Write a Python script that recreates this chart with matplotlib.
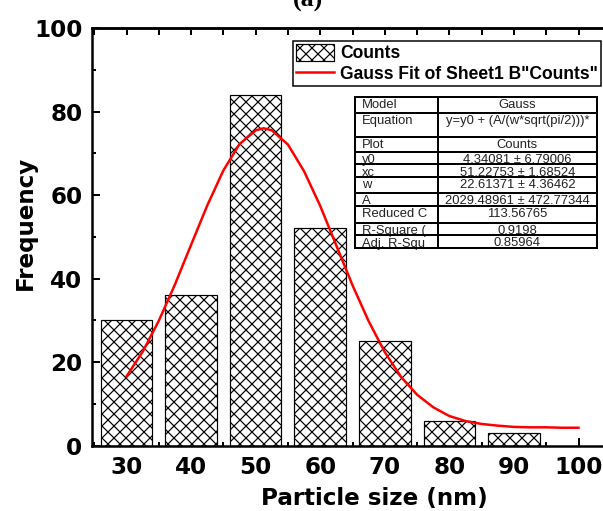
import matplotlib.pyplot as plt
from matplotlib.lines import Line2D
from matplotlib.patches import Rectangle

plt.rcParams['font.family'] = ['DejaVu Sans']
plt.rcParams['font.weight'] = 'bold'
plt.rcParams['hatch.linewidth'] = 1.2
plt.rcParams['hatch.color'] = 'black'

# histogram
size_nm = [30, 40, 50, 60, 70, 80, 90]
counts = [30, 36, 84, 52, 25, 6, 3]

# gauss fit curve
fit_x = [30, 32.5, 35, 37.5, 40, 42.5, 45, 47.5, 50, 51.25, 52.5, 55, 57.5, 60, 62.5, 65,
         67.5, 70, 72.5, 75, 77.5, 80, 82.5, 85, 87.5, 90, 92.5, 95, 97.5, 100]
fit_y = [16.6, 22.5, 29.9, 38.6, 48.1, 57.5, 65.9, 72.2, 75.5, 76.0, 75.5, 72.1, 65.7, 57.4, 47.9, 38.4,
         29.8, 22.4, 16.5, 12.2, 9.2, 7.1, 5.9, 5.2, 4.8, 4.5, 4.4, 4.4, 4.3, 4.3]

# fit report table
param_names = ['Model', 'Equation', 'Plot', 'y0', 'xc', 'w', 'A',
               'Reduced C', 'R-Square (', 'Adj. R-Squ']
param_values = ['Gauss', 'y=y0 + (A/(w*sqrt(pi/2)))*', 'Counts',
                '4.34081 \u00b1 6.79006', '51.22753 \u00b1 1.68524',
                '22.61371 \u00b1 4.36462', '2029.48961 \u00b1 472.77344',
                '113.56765', '0.9198', '0.85964']

W, H = 603, 511
fig = plt.figure(figsize=(W / 72, H / 72), dpi=72)
ax = fig.add_axes([92.3 / W, 1 - 445.7 / H, 518.5 / W, 417.7 / H])

bars = ax.bar(size_nm, counts, width=8, color='white', edgecolor='black', linewidth=1.2,
              hatch='xx', label='Counts', zorder=2)
line, = ax.plot(fit_x, fit_y, color='red', lw=2.5, label='Gauss Fit of Sheet1 B"Counts"', zorder=3)

ax.set_xlim(24.7, 105)
ax.set_ylim(0, 100)
ax.set_xticks(range(30, 101, 10))
ax.set_xticks(range(25, 100, 10), minor=True)
ax.set_yticks(range(0, 101, 20))
ax.set_yticks(range(10, 100, 20), minor=True)
ax.tick_params(which='major', direction='in', length=8, width=2, labelsize=23, pad=10)
ax.tick_params(which='minor', direction='in', length=4, width=2)
ax.spines['right'].set_visible(False)
for s in ['left', 'bottom', 'top']:
    ax.spines[s].set_linewidth(2.5)

top = ax.secondary_xaxis('top')
top.set_xticks(range(25, 101, 5))
top.tick_params(direction='in', length=7, width=2, labeltop=False)
top.spines['top'].set_linewidth(2.5)

leg = ax.legend([bars, line], ['Counts', 'Gauss Fit of Sheet1 B"Counts"'],
                loc='upper left', bbox_to_anchor=(293 / W, 1 - 41 / H),
                bbox_transform=fig.transFigure, borderaxespad=0, fancybox=False,
                edgecolor='black', framealpha=1,
                prop=dict(family='Liberation Sans', weight='bold', size=17.5),
                handlelength=2.2, handleheight=1.13, handletextpad=0.35,
                labelspacing=0.15, borderpad=0.15)
leg.get_frame().set_linewidth(1.5)

# table drawn in figure pixels (from top)
def fx(px):
    return px / W

def fy(py):
    return 1 - py / H

t_left, t_mid, t_right = 354.7, 437.5, 597.3
row_edges = [96.7, 112.7, 136.7, 151.7, 164.3, 176.7, 192.7, 205.7, 222.7, 235.0, 248.3]

fig.add_artist(Rectangle((fx(t_left), fy(row_edges[-1])), fx(t_right) - fx(t_left),
                         fy(row_edges[0]) - fy(row_edges[-1]), transform=fig.transFigure,
                         facecolor='white', edgecolor='none', zorder=4))
for ry in row_edges:
    fig.add_artist(Line2D([fx(t_left), fx(t_right)], [fy(ry), fy(ry)], color='black',
                          lw=2, transform=fig.transFigure, zorder=6))
for cx in [t_left, t_mid, t_right]:
    fig.add_artist(Line2D([fx(cx), fx(cx)], [fy(row_edges[0]), fy(row_edges[-1])],
                          color='black', lw=2, transform=fig.transFigure, zorder=6))
for i, (name, val) in enumerate(zip(param_names, param_values)):
    ty = fy(row_edges[i] + 2.5)
    fig.text(fx(362), ty, name, ha='left', va='top', fontsize=13, weight='normal',
             family='Liberation Sans', color='#222222', zorder=5)
    fig.text(fx((t_mid + t_right) / 2), ty, val, ha='center', va='top', fontsize=13,
             weight='normal', family='Liberation Sans', color='#222222', zorder=5)

fig.text(fx(308), fy(7), '(a)', ha='center', va='baseline', fontsize=26,
         family='Liberation Serif', weight='bold')
fig.text(fx(25), fy(223), 'Frequency', rotation=90, ha='center', va='center',
         fontsize=23, weight='bold')
fig.text(fx(374), fy(498), 'Particle size (nm)', ha='center', va='center',
         fontsize=23, weight='bold')

fig.savefig('out.png', dpi=72)
